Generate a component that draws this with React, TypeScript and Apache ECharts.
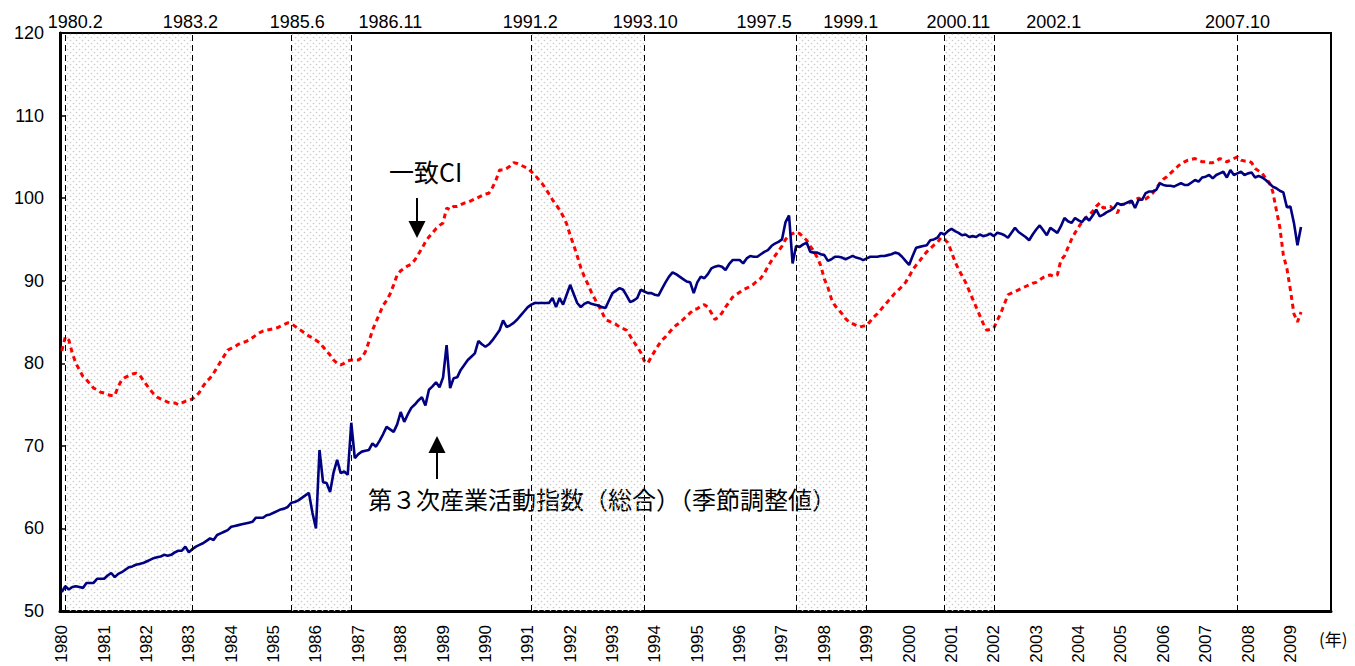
import React, { useEffect, useRef } from 'react';
import * as echarts from 'echarts';

// Monthly categories 1980.1 .. 2009.12
const years: number[] = Array.from({ length: 30 }, (_, i) => 1980 + i);
const months: string[] = [];
years.forEach((y) => {
  for (let m = 1; m <= 12; m++) months.push(`${y}.${m}`);
});

// 第3次産業活動指数（総合）（季節調整値）
const serviceIndex: number[] = [
  52.3, 53.0, 52.6, 52.9, 53.0, 52.9, 52.8, 53.4, 53.4, 53.4, 53.9, 53.9, // 1980
  53.9, 54.3, 54.6, 54.1, 54.5, 54.7, 55.0, 55.3, 55.4, 55.6, 55.7, 55.8, // 1981
  56.0, 56.2, 56.4, 56.5, 56.6, 56.8, 56.7, 56.8, 57.1, 57.3, 57.3, 57.8, // 1982
  57.1, 57.5, 57.8, 58.0, 58.2, 58.5, 58.8, 58.6, 59.2, 59.4, 59.6, 59.8, // 1983
  60.2, 60.3, 60.4, 60.5, 60.6, 60.7, 60.8, 61.3, 61.3, 61.3, 61.6, 61.7, // 1984
  61.9, 62.1, 62.3, 62.4, 62.6, 63.1, 63.2, 63.4, 63.7, 64.0, 64.3, 61.9, // 1985
  60.0, 69.5, 65.6, 65.5, 64.4, 66.8, 68.3, 66.7, 66.9, 66.5, 72.8, 68.5, // 1986
  69.0, 69.3, 69.4, 69.5, 70.3, 69.9, 70.6, 71.4, 72.3, 72.0, 71.7, 72.6, // 1987
  74.1, 72.9, 73.8, 74.6, 75.0, 75.5, 75.9, 74.9, 76.8, 77.2, 77.7, 77.1, // 1988
  78.3, 82.2, 77.0, 78.2, 78.3, 79.2, 79.8, 80.4, 80.8, 81.2, 82.7, 82.3, // 1989
  82.0, 82.3, 82.8, 83.4, 84.0, 85.2, 84.4, 84.6, 84.9, 85.3, 85.8, 86.3, // 1990
  86.8, 87.1, 87.3, 87.3, 87.3, 87.3, 87.3, 87.9, 86.8, 87.9, 87.1, 88.3, // 1991
  89.5, 88.4, 87.3, 86.8, 87.2, 87.4, 87.2, 87.1, 87.0, 86.8, 86.7, 87.6, // 1992
  88.5, 88.8, 89.1, 88.9, 88.2, 87.4, 87.6, 87.9, 88.9, 88.7, 88.5, 88.5, // 1993
  88.3, 88.2, 89.0, 89.8, 90.5, 91.0, 90.8, 90.5, 90.2, 89.9, 89.8, 88.5, // 1994
  89.8, 90.5, 90.3, 90.8, 91.5, 91.7, 91.8, 91.7, 91.3, 92.0, 92.5, 92.5, // 1995
  92.5, 92.1, 92.7, 93.0, 92.9, 92.9, 93.2, 93.5, 93.7, 94.2, 94.5, 94.7, // 1996
  95.0, 97.1, 97.9, 92.1, 94.2, 94.1, 94.4, 94.6, 93.5, 93.4, 93.4, 93.2, // 1997
  93.1, 92.4, 92.6, 92.9, 92.9, 92.8, 92.6, 92.8, 93.0, 92.8, 92.7, 92.5, // 1998
  92.7, 92.9, 92.9, 92.9, 93.0, 93.0, 93.1, 93.2, 93.4, 93.3, 92.9, 92.4, // 1999
  91.9, 93.0, 94.0, 94.1, 94.2, 94.3, 94.9, 95.0, 95.2, 95.8, 95.6, 96.0, // 2000
  96.3, 96.0, 95.8, 95.5, 95.6, 95.3, 95.4, 95.3, 95.6, 95.4, 95.5, 95.7, // 2001
  95.4, 95.8, 95.7, 95.5, 95.2, 95.8, 96.4, 95.9, 95.6, 95.3, 94.9, 95.6, // 2002
  96.2, 96.7, 96.1, 95.5, 96.4, 96.1, 95.8, 96.6, 97.6, 97.2, 97.0, 97.6, // 2003
  97.3, 97.1, 97.7, 97.3, 97.9, 98.6, 97.8, 98.0, 98.3, 98.5, 98.8, 99.4, // 2004
  99.2, 99.3, 99.5, 99.7, 98.8, 99.8, 99.8, 100.6, 100.8, 100.8, 101.0, 101.8, // 2005
  101.6, 101.5, 101.5, 101.4, 101.6, 101.8, 101.6, 101.6, 101.9, 102.2, 102.0, 102.5, // 2006
  102.6, 102.8, 102.4, 102.8, 103.0, 103.2, 102.5, 103.4, 102.8, 103.0, 103.2, 102.8, // 2007
  103.0, 103.1, 102.5, 102.7, 102.5, 102.2, 101.8, 101.4, 101.2, 100.9, 100.7, 98.9, // 2008
  99.0, 97.0, 94.3, 96.5, // 2009
];

// 一致CI
const coincidentCI: number[] = [
  81.5, 83.2, 82.8, 81.2, 80.0, 79.2, 78.4, 78.0, 77.5, 77.0, 76.8, 76.5, // 1980
  76.4, 76.2, 76.1, 76.1, 77.2, 78.0, 78.3, 78.5, 78.7, 78.8, 78.6, 78.0, // 1981
  77.4, 76.8, 76.3, 75.9, 75.7, 75.5, 75.3, 75.2, 75.2, 75.0, 75.2, 75.4, // 1982
  75.5, 75.7, 76.0, 76.5, 77.2, 77.8, 78.2, 78.8, 79.5, 80.2, 80.9, 81.6, // 1983
  81.8, 82.0, 82.3, 82.5, 82.6, 82.8, 83.1, 83.4, 83.7, 83.9, 84.0, 84.1, // 1984
  84.2, 84.3, 84.5, 84.7, 84.9, 84.8, 84.5, 84.2, 83.9, 83.6, 83.3, 83.1, // 1985
  82.8, 82.5, 82.0, 81.5, 81.0, 80.4, 80.0, 79.8, 80.0, 80.3, 80.4, 80.4, // 1986
  80.4, 80.7, 81.4, 82.6, 84.0, 85.0, 86.0, 87.0, 87.6, 88.4, 89.5, 90.7, // 1987
  91.2, 91.5, 91.8, 92.0, 92.5, 93.2, 93.9, 94.7, 95.3, 95.8, 96.3, 96.7, // 1988
  97.0, 98.8, 98.6, 99.0, 99.0, 99.2, 99.4, 99.5, 99.7, 99.9, 100.1, 100.3, // 1989
  100.5, 100.6, 101.3, 102.2, 103.4, 103.4, 103.6, 103.9, 104.3, 104.2, 104.0, 103.8, // 1990
  103.6, 103.2, 102.8, 102.3, 101.8, 101.2, 100.5, 99.8, 99.2, 98.6, 97.8, 96.9, // 1991
  95.5, 94.3, 93.0, 91.6, 90.5, 89.6, 88.6, 87.8, 87.0, 86.2, 85.3, 85.1, // 1992
  84.9, 84.7, 84.4, 84.2, 84.0, 83.3, 82.6, 82.0, 81.3, 80.3, 80.0, 80.8, // 1993
  81.5, 82.2, 82.8, 83.2, 83.7, 84.2, 84.6, 84.9, 85.3, 85.7, 86.1, 86.5, // 1994
  86.6, 86.9, 87.1, 86.8, 86.1, 85.3, 85.6, 86.1, 86.8, 87.4, 88.0, 88.3, // 1995
  88.6, 88.9, 89.1, 89.3, 89.6, 90.0, 90.3, 90.9, 91.7, 92.4, 93.0, 93.6, // 1996
  94.2, 95.0, 95.5, 95.7, 95.9, 95.7, 95.3, 94.9, 94.2, 93.6, 92.8, 91.8, // 1997
  90.2, 89.2, 87.8, 87.0, 86.5, 86.0, 85.4, 85.0, 84.8, 84.6, 84.4, 84.5, // 1998
  84.6, 85.1, 85.6, 86.0, 86.5, 87.0, 87.5, 88.0, 88.5, 88.9, 89.3, 89.8, // 1999
  90.5, 91.3, 91.9, 92.4, 93.0, 93.5, 93.9, 94.3, 94.6, 95.2, 95.0, 94.6, // 2000
  93.5, 92.3, 91.4, 90.6, 89.8, 88.8, 87.8, 86.8, 85.8, 84.8, 84.0, 84.1, // 2001
  84.3, 85.2, 86.1, 87.2, 88.3, 88.5, 88.7, 88.9, 89.1, 89.3, 89.5, 89.7, // 2002
  89.8, 90.1, 90.4, 90.6, 90.7, 90.5, 90.7, 92.5, 93.0, 94.0, 95.0, 95.8, // 2003
  96.5, 97.1, 97.6, 98.0, 98.4, 99.0, 99.4, 98.8, 98.9, 99.0, 98.6, 98.2, // 2004
  99.2, 99.3, 99.4, 99.5, 99.8, 100.0, 99.8, 99.9, 100.2, 100.6, 101.2, 101.8, // 2005
  102.3, 102.6, 103.0, 103.4, 103.8, 104.2, 104.4, 104.6, 104.7, 104.8, 104.6, 104.4, // 2006
  104.4, 104.3, 104.3, 104.5, 104.8, 104.6, 104.4, 104.6, 104.8, 105.0, 104.6, 104.5, // 2007
  104.5, 104.3, 103.6, 103.3, 103.0, 102.4, 101.9, 100.8, 98.6, 96.5, 93.1, 91.5, // 2008
  88.9, 86.0, 85.0, 86.2, // 2009
];

// Business cycle turning points (peak / trough)
const turningPoints: string[] = [
  '1980.2', '1983.2', '1985.6', '1986.11', '1991.2', '1993.10',
  '1997.5', '1999.1', '2000.11', '2002.1', '2007.10',
];
const turningLabelShift: number[] = [10, -2, 6, 39, -1, 1, -32, -16, 14, 60, 0];

// Recession periods (peak -> trough)
const recessions: [string, string][] = [
  ['1980.2', '1983.2'],
  ['1985.6', '1986.11'],
  ['1991.2', '1993.10'],
  ['1997.5', '1999.1'],
  ['2000.11', '2002.1'],
];

const yTicks = { min: 50, max: 120, interval: 10 };

function makeDotPattern(): string {
  const c = document.createElement('canvas');
  c.width = 6;
  c.height = 6;
  const ctx = c.getContext('2d');
  if (ctx) {
    ctx.fillStyle = '#cdcdcd';
    ctx.beginPath();
    ctx.arc(1.5, 1.5, 0.85, 0, Math.PI * 2);
    ctx.fill();
    ctx.beginPath();
    ctx.arc(4.5, 4.5, 0.85, 0, Math.PI * 2);
    ctx.fill();
  }
  return c.toDataURL();
}

export default function App() {
  const ref = useRef<HTMLDivElement>(null);

  useEffect(() => {
    if (!ref.current) return;
    const chart = echarts.init(ref.current, undefined, { renderer: 'svg' });
    const pattern = makeDotPattern();
    const numFont = '"Liberation Sans", Arial, sans-serif';
    const cjkFont = '"Noto Sans CJK JP", sans-serif';

    const option: any = {
      animation: false,
      backgroundColor: '#fff',
      grid: {
        left: 60,
        right: 24,
        top: 33,
        bottom: 55,
        show: true,
        borderColor: '#000',
        borderWidth: 2,
        backgroundColor: 'transparent',
      },
      xAxis: {
        type: 'category',
        data: months,
        boundaryGap: true,
        axisLine: { lineStyle: { color: '#000', width: 3 } },
        axisTick: {
          inside: true,
          length: 5,
          interval: (i: number) => i % 12 === 0,
          lineStyle: { color: '#000', width: 1.5 },
        },
        axisLabel: {
          interval: (i: number) => i % 12 === 0,
          formatter: (v: string) => v.split('.')[0],
          rotate: 90,
          fontSize: 17,
          fontFamily: numFont,
          color: '#000',
          margin: 14,
        },
        splitLine: { show: false },
      },
      yAxis: {
        type: 'value',
        min: yTicks.min,
        max: yTicks.max,
        interval: yTicks.interval,
        axisLine: { show: true, lineStyle: { color: '#000', width: 3 } },
        axisTick: { show: true, inside: true, length: 5, lineStyle: { color: '#000', width: 1.5 } },
        axisLabel: { fontSize: 18, fontFamily: numFont, color: '#000', margin: 16 },
        splitLine: { show: false },
      },
      series: [
        {
          name: 'bands',
          type: 'line',
          data: [],
          z: 1,
          silent: true,
          markArea: {
            silent: true,
            itemStyle: {
              color: { image: pattern, repeat: 'repeat' },
              borderWidth: 0,
            },
            data: recessions.map(([a, b]) => [{ xAxis: a }, { xAxis: b }]),
          },
          markLine: {
            silent: true,
            symbol: ['none', 'none'],
            animation: false,
            lineStyle: { color: '#000', width: 1, type: [6, 4] },
            label: {
              show: true,
              position: 'end',
              distance: 2,
              fontSize: 18,
              fontFamily: numFont,
              color: '#000',
              formatter: (p: any) => p.name,
            },
            emphasis: { disabled: true },
            data: turningPoints.map((t, i) => ({
              name: t,
              xAxis: t,
              label: { offset: [turningLabelShift[i], 0] },
            })),
          },
        },
        {
          name: '一致CI',
          type: 'line',
          data: coincidentCI,
          z: 2,
          showSymbol: false,
          symbol: 'none',
          lineStyle: { color: '#ff0000', width: 3, type: [5, 4] },
        },
        {
          name: '第3次産業活動指数（総合）（季節調整値）',
          type: 'line',
          data: serviceIndex,
          z: 3,
          showSymbol: false,
          symbol: 'none',
          lineStyle: { color: '#000080', width: 2.6 },
        },
      ],
      graphic: [
        {
          type: 'text',
          left: 389,
          top: 158,
          style: { text: '一致CI', font: `25px ${cjkFont}`, fill: '#000' },
        },
        {
          type: 'line',
          shape: { x1: 417, y1: 198, x2: 417, y2: 226 },
          style: { stroke: '#000', lineWidth: 2 },
        },
        {
          type: 'polygon',
          shape: { points: [[408.5, 221], [425.5, 221], [417, 238]] },
          style: { fill: '#000' },
        },
        {
          type: 'line',
          shape: { x1: 437, y1: 479, x2: 437, y2: 450 },
          style: { stroke: '#000', lineWidth: 2 },
        },
        {
          type: 'polygon',
          shape: { points: [[428.5, 453], [445.5, 453], [437, 436]] },
          style: { fill: '#000' },
        },
        {
          type: 'text',
          left: 368,
          top: 486,
          style: { text: '第３次産業活動指数（総合）（季節調整値）', font: `24px ${cjkFont}`, fill: '#000' },
        },
        {
          type: 'text',
          left: 1319,
          top: 630,
          style: { text: '(年)', font: `17px ${cjkFont}`, fill: '#000' },
        },
      ],
    };

    chart.setOption(option);
    return () => chart.dispose();
  }, []);

  return (
    <div
      ref={ref}
      style={{ position: 'fixed', left: 0, top: 0, width: 1355, height: 666, background: '#fff' }}
    />
  );
}
